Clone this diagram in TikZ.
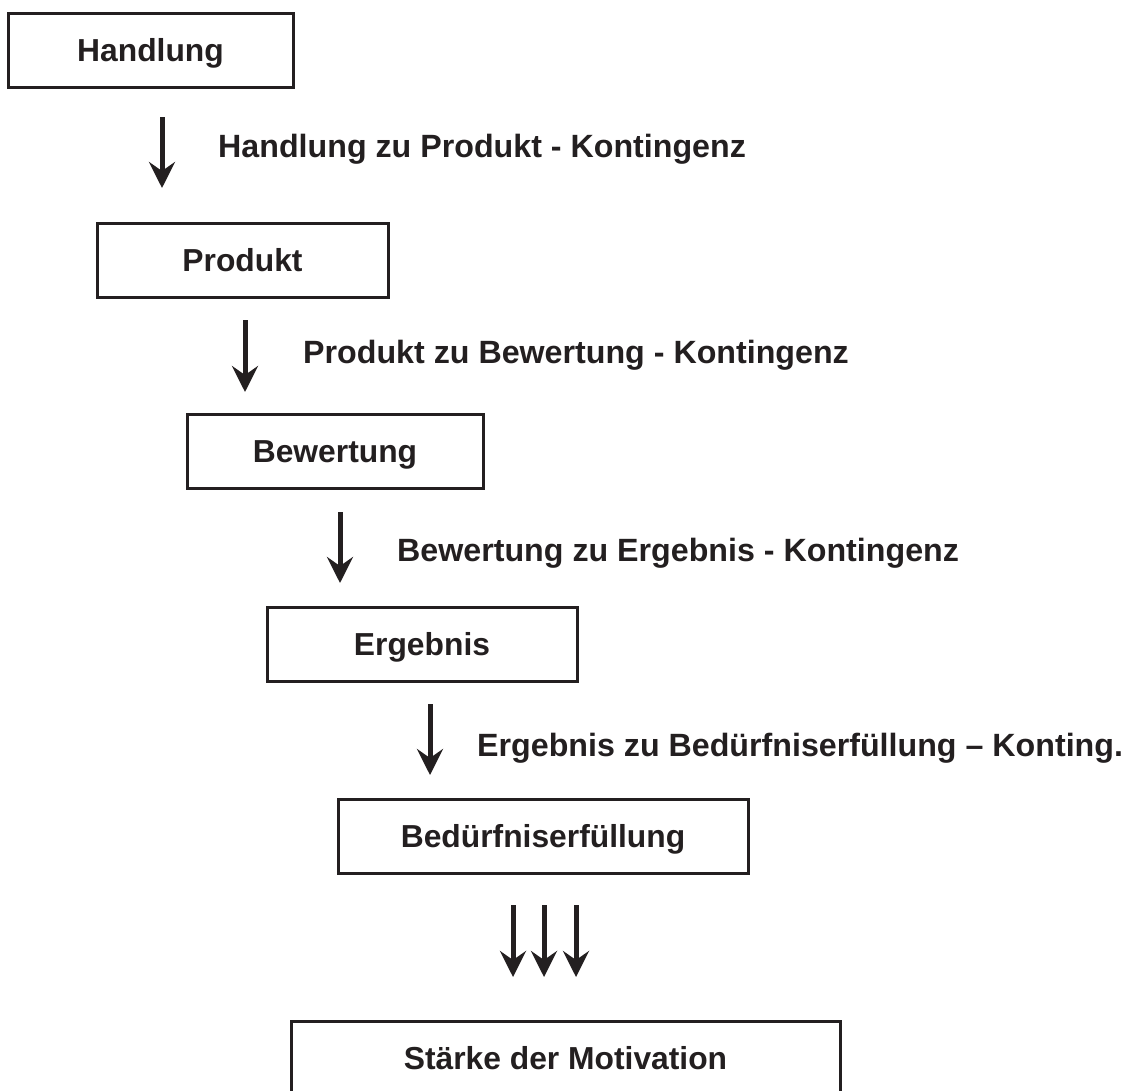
\documentclass[tikz,border=0pt]{standalone}
\usepackage{fontspec}
\setmainfont{Liberation Sans}
\usetikzlibrary{arrows.meta}
\definecolor{ink}{HTML}{231F20}
\begin{document}
\begin{tikzpicture}[x=1pt,y=-1pt,
  box/.style={draw=ink, line width=3pt, rectangle, inner sep=0pt, text=ink,
    font=\bfseries\fontsize{31.8}{37}\selectfont, text height=22.8pt, text depth=0pt,
    minimum height=74pt},
  lab/.style={anchor=west, inner sep=0pt, text=ink,
    font=\bfseries\fontsize{32.2}{38}\selectfont, text height=23pt, text depth=0pt},
  flow/.style={draw=ink, line width=5pt,
    -{Stealth[length=26pt,width=26pt,inset=9pt]}}]
\useasboundingbox (0,0) rectangle (1126,1090);
\clip (0,0) rectangle (1126,1090);

% chain of stages
\node[box, minimum width=285pt] (hand) at (150.5,50)   {Handlung};
\node[box, minimum width=291pt] (prod) at (242.5,260)  {Produkt};
\node[box, minimum width=296pt] (bew)  at (335,451.5)  {Bewertung};
\node[box, minimum width=310pt] (erg)  at (422,644)    {Ergebnis};
\node[box, minimum width=410pt] (bed)  at (543,836.5)  {Bedürfniserfüllung};
\node[box, minimum width=549pt] (st)   at (565.5,1058) {Stärke der Motivation};

% contingency arrows between the stages
\coordinate (a1s) at (162,117); \coordinate (a1e) at (162,188);
\coordinate (a2s) at (245,320); \coordinate (a2e) at (245,392);
\coordinate (a3s) at (340,512); \coordinate (a3e) at (340,583);
\coordinate (a4s) at (430,704); \coordinate (a4e) at (430,775);
\draw[flow] (a1s) -- (a1e);
\draw[flow] (a2s) -- (a2e);
\draw[flow] (a3s) -- (a3e);
\draw[flow] (a4s) -- (a4e);

% triple arrow into the motivation box
\foreach \i/\x in {1/513, 2/544, 3/576} {
  \coordinate (m\i s) at (\x,905);
  \coordinate (m\i e) at (\x,977);
  \draw[flow] (m\i s) -- (m\i e);
}

% contingency labels
\node[lab] (l1) at (218,146) {Handlung zu Produkt - Kontingenz};
\node[lab] (l2) at (303,352) {Produkt zu Bewertung - Kontingenz};
\node[lab] (l3) at (397,550) {Bewertung zu Ergebnis - Kontingenz};
\node[lab] (l4) at (477,745) {Ergebnis zu Bedürfniserfüllung – Konting.};
\end{tikzpicture}
\end{document}
